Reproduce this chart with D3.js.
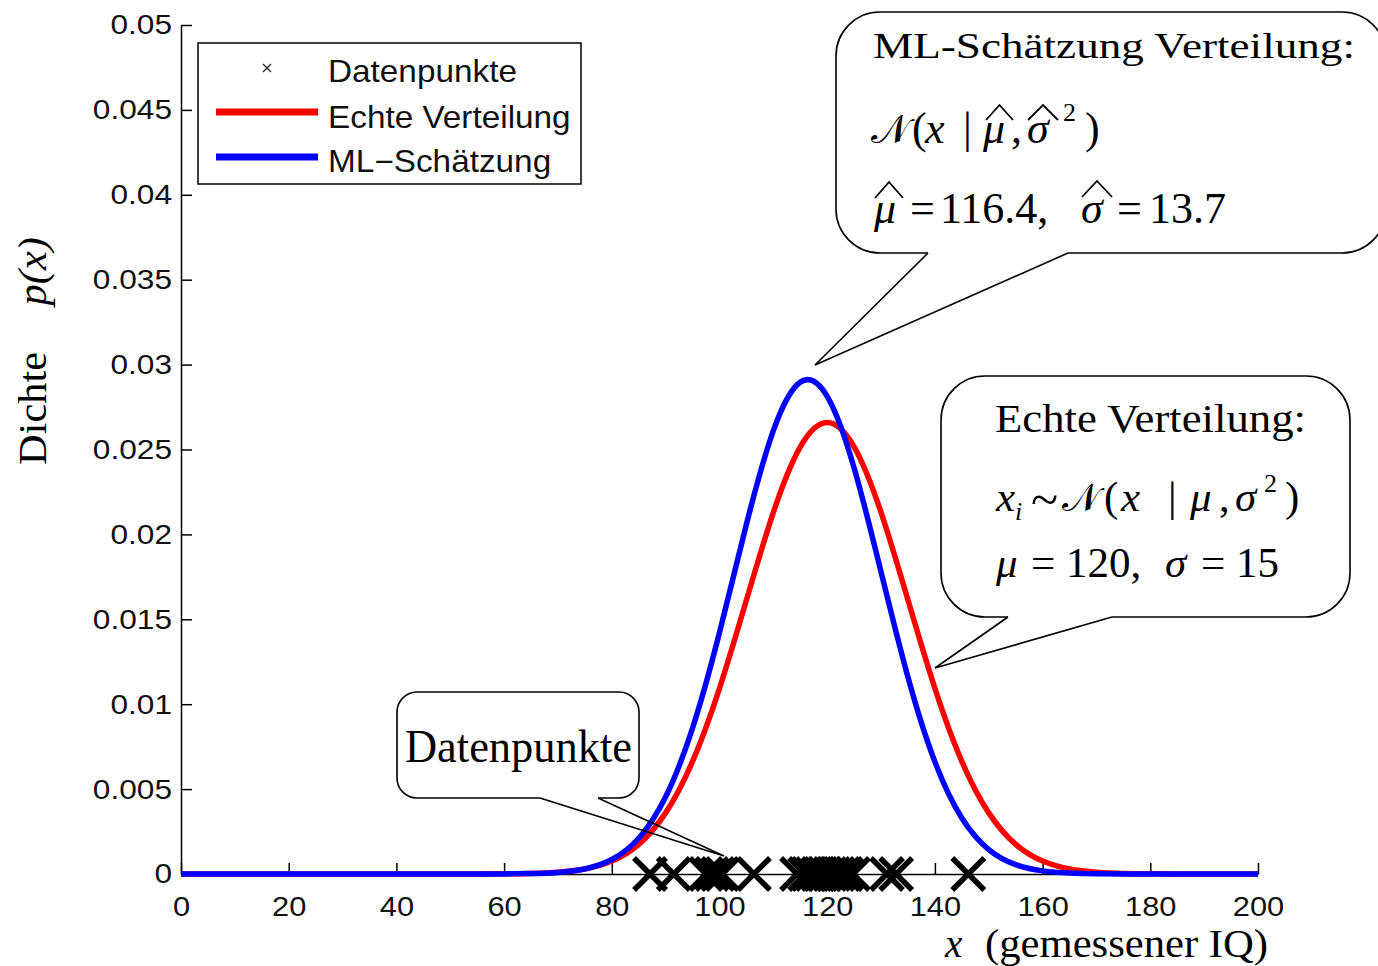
<!DOCTYPE html>
<html><head><meta charset="utf-8">
<script src="https://cdn.jsdelivr.net/npm/d3@7"></script>
<style>body{margin:0;background:#fff}svg{display:block}</style>
</head><body>
<svg id="c" width="1378" height="966"></svg>
<script>
// ---- data ----
const xGrid = [0,5,10,15,20,25,30,35,40,45,50,55,60,65,70,75,80,85,90,95,100,105,110,115,120,125,130,135,140,145,150,155,160,165,170,175,180,185,190,195,200];
const echteDensity = [0,0,0,0,0,0,0,0,0,0,0,0,0.0000089,0.000032,0.000103,0.000295,0.00076,0.001748,0.003599,0.006632,0.010934,0.016131,0.021296,0.025159,0.026596,0.025159,0.021296,0.016131,0.010934,0.006632,0.003599,0.001748,0.00076,0.000295,0.000103,0.000032,0.0000089,0,0,0,0];
const mlDensity = [0,0,0,0,0,0,0,0,0,0,0,0,0.0000061,0.000026,0.000094,0.000303,0.000854,0.002106,0.004548,0.008597,0.014223,0.020598,0.026110,0.028968,0.028132,0.023912,0.017791,0.011586,0.006604,0.003295,0.001439,0.000550,0.000184,0.000054,0.0000138,0.000003,0,0,0,0,0];
const datenpunkte = [87.1,91.5,97.5,98.6,99.7,100.5,106.4,114.4,115.9,116.5,117.2,118.3,118.8,119.4,120.5,121.2,122,123,123.5,124.8,131.1,132.8,146.2];
const xTicks = [0,20,40,60,80,100,120,140,160,180,200];
const yTicks = [0,0.005,0.01,0.015,0.02,0.025,0.03,0.035,0.04,0.045,0.05];
const yTickLabels = ["0","0.005","0.01","0.015","0.02","0.025","0.03","0.035","0.04","0.045","0.05"];
const legendLabels = ["Datenpunkte","Echte Verteilung","ML\u2212Schätzung"];
const seriesColors = ["#ff0000","#0000ff"];

const SANS = "'Liberation Sans', Arial, Helvetica, sans-serif";
const SERIF = "'Liberation Serif', 'Times New Roman', 'DejaVu Serif', serif";
const CAL = "'DejaVu Serif','DejaVu Sans','Liberation Serif', serif";

const svg = d3.select("#c");
const x = d3.scaleLinear().domain([0,200]).range([181,1258]);
const y = d3.scaleLinear().domain([0,0.05]).range([874,25]);

// ---- axes ----
const gx = svg.append("g").attr("transform",`translate(0,${y(0)})`)
  .call(d3.axisBottom(x).tickValues(xTicks).tickSizeInner(-11).tickSizeOuter(0).tickPadding(22).tickFormat(d3.format("d")));
const gy = svg.append("g").attr("transform",`translate(${x(0)},0)`)
  .call(d3.axisLeft(y).tickValues(yTicks).tickSizeInner(-11).tickSizeOuter(0).tickPadding(9).tickFormat((d,i)=>yTickLabels[i]));
[gx,gy].forEach(g=>{
  g.select(".domain").attr("stroke","#000").attr("stroke-width",1.5);
  g.selectAll(".tick line").attr("stroke","#000").attr("stroke-width",1.5);
  g.selectAll("text").attr("font-family",SANS).attr("font-size",28).attr("fill","#111");
});
gy.selectAll("text").attr("x",0).attr("transform","translate(-9,0) scale(1.13,1)");
gx.selectAll("text").attr("transform","scale(1.1,1)");

// ---- curves ----
const line = d3.line().x(d=>x(d[0])).y(d=>y(d[1])).curve(d3.curveNatural);
[echteDensity, mlDensity].forEach((s,i)=>{
  svg.append("path").datum(xGrid.map((g,j)=>[g,s[j]]))
    .attr("d",line).attr("fill","none").attr("stroke",seriesColors[i])
    .attr("stroke-width",5.5).attr("stroke-linejoin","round");
});

// ---- data points ----
const h = 16;
svg.append("g").selectAll("path").data(datenpunkte).join("path")
  .attr("d",d=>{const cx=x(d), cy=y(0); return `M${cx-h},${cy-h}L${cx+h},${cy+h}M${cx-h},${cy+h}L${cx+h},${cy-h}`;})
  .attr("stroke","#000").attr("stroke-width",5.5).attr("fill","none");

// ---- legend ----
const lg = svg.append("g");
lg.append("rect").attr("x",198).attr("y",43).attr("width",383).attr("height",141)
  .attr("fill","#fff").attr("stroke","#000").attr("stroke-width",1.5);
const lb = [82,128,172], ly=[68,112,157];
lg.append("path").attr("d",`M263,64L271,72M263,72L271,64`).attr("stroke","#333").attr("stroke-width",1.5);
lg.append("line").attr("x1",216).attr("x2",318).attr("y1",ly[1]).attr("y2",ly[1]).attr("stroke",seriesColors[0]).attr("stroke-width",7);
lg.append("line").attr("x1",216).attr("x2",318).attr("y1",ly[2]).attr("y2",ly[2]).attr("stroke",seriesColors[1]).attr("stroke-width",7);
legendLabels.forEach((t,i)=>{
  lg.append("text").attr("transform",`translate(328,${lb[i]}) scale(1.075,1)`)
    .attr("font-family",SANS).attr("font-size",31).attr("fill","#111").text(t);
});

// ---- axis titles ----
const yl = svg.append("text").attr("transform","translate(46,465) rotate(-90) scale(1.06,1)")
  .attr("font-family",SERIF).attr("font-size",40);
yl.append("tspan").text("Dichte");
yl.append("tspan").attr("dx",44).attr("font-style","italic").text("p(x)");
svg.append("text").attr("x",945).attr("y",957).attr("font-family",SERIF).attr("font-size",39).attr("font-style","italic").text("x");
svg.append("text").attr("x",985).attr("y",957).attr("font-family",SERIF).attr("font-size",39)
  .attr("textLength",283).attr("lengthAdjust","spacingAndGlyphs").text("(gemessener IQ)");

// ---- callouts ----
function callout(x0,y0,x1,y1,r,b1,b2,tx,ty){
  const g = svg.append("g");
  g.append("path").attr("d",
    `M${b1},${y1}L${x0+r},${y1}A${r},${r} 0 0 1 ${x0},${y1-r}L${x0},${y0+r}A${r},${r} 0 0 1 ${x0+r},${y0}`+
    `L${x1-r},${y0}A${r},${r} 0 0 1 ${x1},${y0+r}L${x1},${y1-r}A${r},${r} 0 0 1 ${x1-r},${y1}L${b2},${y1}`)
    .attr("fill","#fff").attr("stroke","#000").attr("stroke-width",1.6);
  g.append("path").attr("d",`M${b1},${y1}L${tx},${ty}L${b2},${y1}`)
    .attr("fill","none").attr("stroke","#000").attr("stroke-width",1.6).attr("stroke-linejoin","miter");
  return g;
}
function tokens(g,list,size,base){
  list.forEach(t=>{
    g.append("text").attr("x",t.x).attr("y",t.y!==undefined?t.y:base)
      .attr("font-family",t.cal?CAL:SERIF).attr("font-size",t.s||size)
      .attr("font-style",t.i?"italic":"normal").attr("fill","#000").text(t.t);
  });
}
function hats(g,list){
  list.forEach(hh=>{
    g.append("path").attr("d",`M${hh[0]},${hh[2]}L${(hh[0]+hh[1])/2},${hh[3]}L${hh[1]},${hh[2]}`)
      .attr("fill","none").attr("stroke","#000").attr("stroke-width",1.8);
  });
}

// Callout 1: ML-Schätzung
const c1 = callout(836,12,1386,253,44,928,1068,815,365);
c1.append("text").attr("x",873).attr("y",58).attr("font-family",SERIF).attr("font-size",36)
  .attr("textLength",482).attr("lengthAdjust","spacingAndGlyphs").text("ML-Schätzung Verteilung:");
tokens(c1,[
  {t:"\u{1D4A9}",x:871,cal:true,s:40},{t:"(",x:912},{t:"x",x:925,i:true},{t:"|",x:963},
  {t:"μ",x:983,i:true},{t:",",x:1011},{t:"σ",x:1027,i:true},{t:"2",x:1063,s:26,y:121},{t:")",x:1085}
],44,143);
tokens(c1,[
  {t:"μ",x:874,i:true},{t:"=",x:910},{t:"116.4,",x:940},{t:"σ",x:1081,i:true},{t:"=",x:1117},{t:"13.7",x:1149}
],44,223);
hats(c1,[[986,1013,120,105],[1028,1058,120,105],[875,903,198,182],[1082,1112,197,181]]);

// Callout 2: Echte Verteilung
const c2 = callout(941,376,1350,617,44,1008,1112,935,668);
c2.append("text").attr("x",995).attr("y",432).attr("font-family",SERIF).attr("font-size",40)
  .attr("textLength",311).attr("lengthAdjust","spacingAndGlyphs").text("Echte Verteilung:");
tokens(c2,[
  {t:"x",x:996,i:true},{t:"i",x:1015,i:true,s:26,y:520},{t:"~",x:1031,s:50,y:516},{t:"\u{1D4A9}",x:1062,cal:true,s:39},
  {t:"(",x:1104},{t:"x",x:1121,i:true},{t:"|",x:1168},{t:"μ",x:1190,i:true},{t:",",x:1219},
  {t:"σ",x:1235,i:true},{t:"2",x:1264,s:26,y:492},{t:")",x:1285}
],43,511);
tokens(c2,[
  {t:"μ",x:996,i:true},{t:"=",x:1031},{t:"120,",x:1066},{t:"σ",x:1165,i:true},{t:"=",x:1201},{t:"15",x:1236}
],43,577);

// Callout 3: Datenpunkte
const c3 = callout(397,692,639,798,20,540,598,724,856);
c3.append("text").attr("x",405).attr("y",762).attr("font-family",SERIF).attr("font-size",46)
  .attr("textLength",227).attr("lengthAdjust","spacingAndGlyphs").text("Datenpunkte");
</script>
</body></html>
